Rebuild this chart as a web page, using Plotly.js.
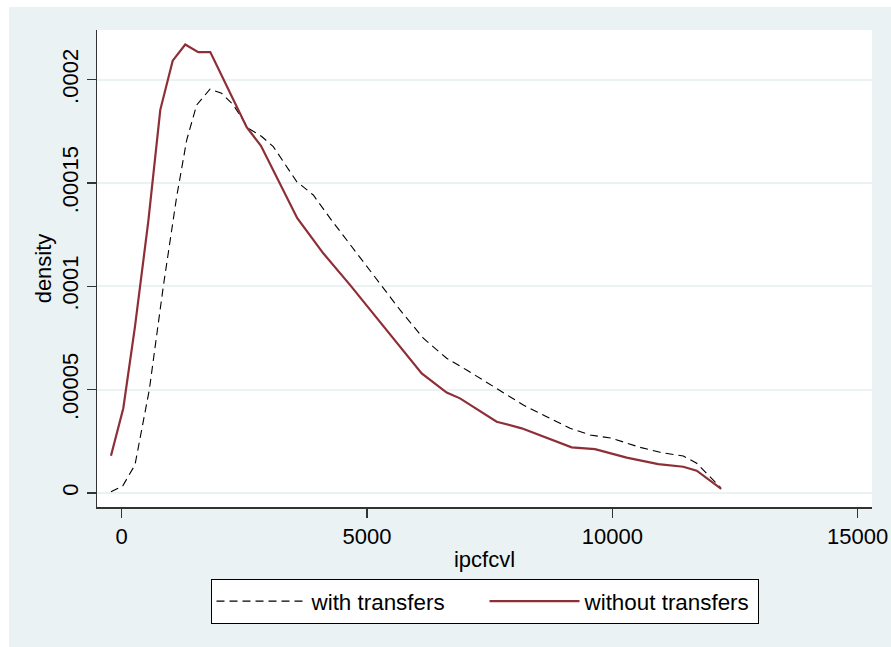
<!DOCTYPE html>
<html>
<head>
<meta charset="utf-8">
<script src="https://cdn.plot.ly/plotly-3.0.1.min.js"></script>
<style>
html, body { margin: 0; padding: 0; background: #ffffff; width: 891px; height: 647px; overflow: hidden; }
#chart { position: absolute; left: 9px; top: 7px; width: 882px; height: 640px; }
</style>
</head>
<body>
<div id="chart"></div>
<script>
// with transfers (dashed black)
var withX = [-218, 20, 271, 563, 848, 1121, 1325, 1529, 1800, 2038, 2275, 2581, 2854, 3090, 3567, 3905, 4246, 4688, 5198, 5673, 6148, 6624, 7032, 7574, 7915, 8186, 8663, 9138, 9545, 9988, 10564, 10972, 11447, 11720, 12209];
var withY = [0.0000006, 0.0000034, 0.0000136, 0.0000499, 0.0000999, 0.0001434, 0.0001708, 0.0001878, 0.0001954, 0.0001934, 0.0001878, 0.0001765, 0.0001725, 0.0001676, 0.0001507, 0.0001442, 0.0001330, 0.0001192, 0.0001031, 0.0000886, 0.0000749, 0.0000652, 0.0000595, 0.0000514, 0.0000463, 0.0000426, 0.0000369, 0.0000313, 0.0000281, 0.0000265, 0.0000221, 0.0000197, 0.0000179, 0.0000144, 0.0000026];

// without transfers (solid maroon)
var withoutX = [-218, 33, 271, 542, 787, 1040, 1296, 1561, 1806, 2548, 2839, 3579, 4109, 4653, 6115, 6624, 6896, 7370, 7643, 8153, 9172, 9647, 10293, 10937, 11447, 11720, 12220];
var withoutY = [0.00001805, 0.0000410, 0.0000805, 0.0001313, 0.0001854, 0.0002092, 0.0002170, 0.0002133, 0.0002134, 0.0001770, 0.0001680, 0.0001330, 0.0001160, 0.0001007, 0.0000579, 0.0000486, 0.0000458, 0.0000386, 0.0000345, 0.0000313, 0.0000221, 0.0000212, 0.0000171, 0.0000140, 0.0000127, 0.0000108, 0.0000020];

var seriesNames = ['with transfers', 'without transfers'];
var xTickVals = [0, 5000, 10000, 15000];
var xTickText = ['0', '5000', '10000', '15000'];
var yTickVals = [0, 0.00005, 0.0001, 0.00015, 0.0002];
var yTickText = ['0', '.00005', '.0001', '.00015', '.0002'];

var FONT = 'Liberation Sans, Arial, sans-serif';
var BG = '#EAF2F3';

var traces = [
  {
    x: withX, y: withY, type: 'scatter', mode: 'lines', name: seriesNames[0],
    line: { color: '#000000', width: 1.1, dash: '8px,5px' }
  },
  {
    x: withoutX, y: withoutY, type: 'scatter', mode: 'lines', name: seriesNames[1],
    line: { color: '#8E2E36', width: 2.2 }
  }
];

var layout = {
  width: 882, height: 640,
  margin: { l: 88, r: 19, t: 23, b: 140 },
  paper_bgcolor: BG,
  plot_bgcolor: '#ffffff',
  font: { family: FONT, size: 22, color: '#000000' },
  showlegend: true,
  hovermode: false,
  xaxis: {
    range: [-503, 15293],
    tickvals: xTickVals, ticktext: xTickText,
    ticks: 'outside', ticklen: 9, tickwidth: 1.2, tickcolor: '#333333',
    showline: true, linecolor: '#333333', linewidth: 1.5, mirror: false,
    showgrid: false, zeroline: false,
    tickfont: { family: FONT, size: 22, color: '#000000' },
    title: { text: 'ipcfcvl', font: { family: FONT, size: 22, color: '#000000' }, standoff: 3 }
  },
  yaxis: {
    range: [-0.00000677, 0.00022404],
    tickvals: yTickVals, ticktext: yTickText,
    tickangle: -90,
    ticks: 'outside', ticklen: 9, tickwidth: 1.2, tickcolor: '#333333',
    showline: true, linecolor: '#333333', linewidth: 1.5, mirror: false,
    showgrid: true, gridcolor: BG, gridwidth: 2,
    zeroline: false,
    tickfont: { family: FONT, size: 22, color: '#000000' },
    title: { text: 'density', font: { family: FONT, size: 22, color: '#000000' }, standoff: 0 }
  },
  legend: {
    orientation: 'h',
    x: 0.5, xanchor: 'center',
    y: -0.151, yanchor: 'top',
    bgcolor: '#ffffff', bordercolor: '#000000', borderwidth: 1,
    font: { family: FONT, size: 22.4, color: '#000000' },
    itemwidth: 90,
    entrywidth: 168,
    traceorder: 'normal'
  }
};

Plotly.newPlot('chart', traces, layout, { displayModeBar: false, staticPlot: true });
</script>
</body>
</html>
